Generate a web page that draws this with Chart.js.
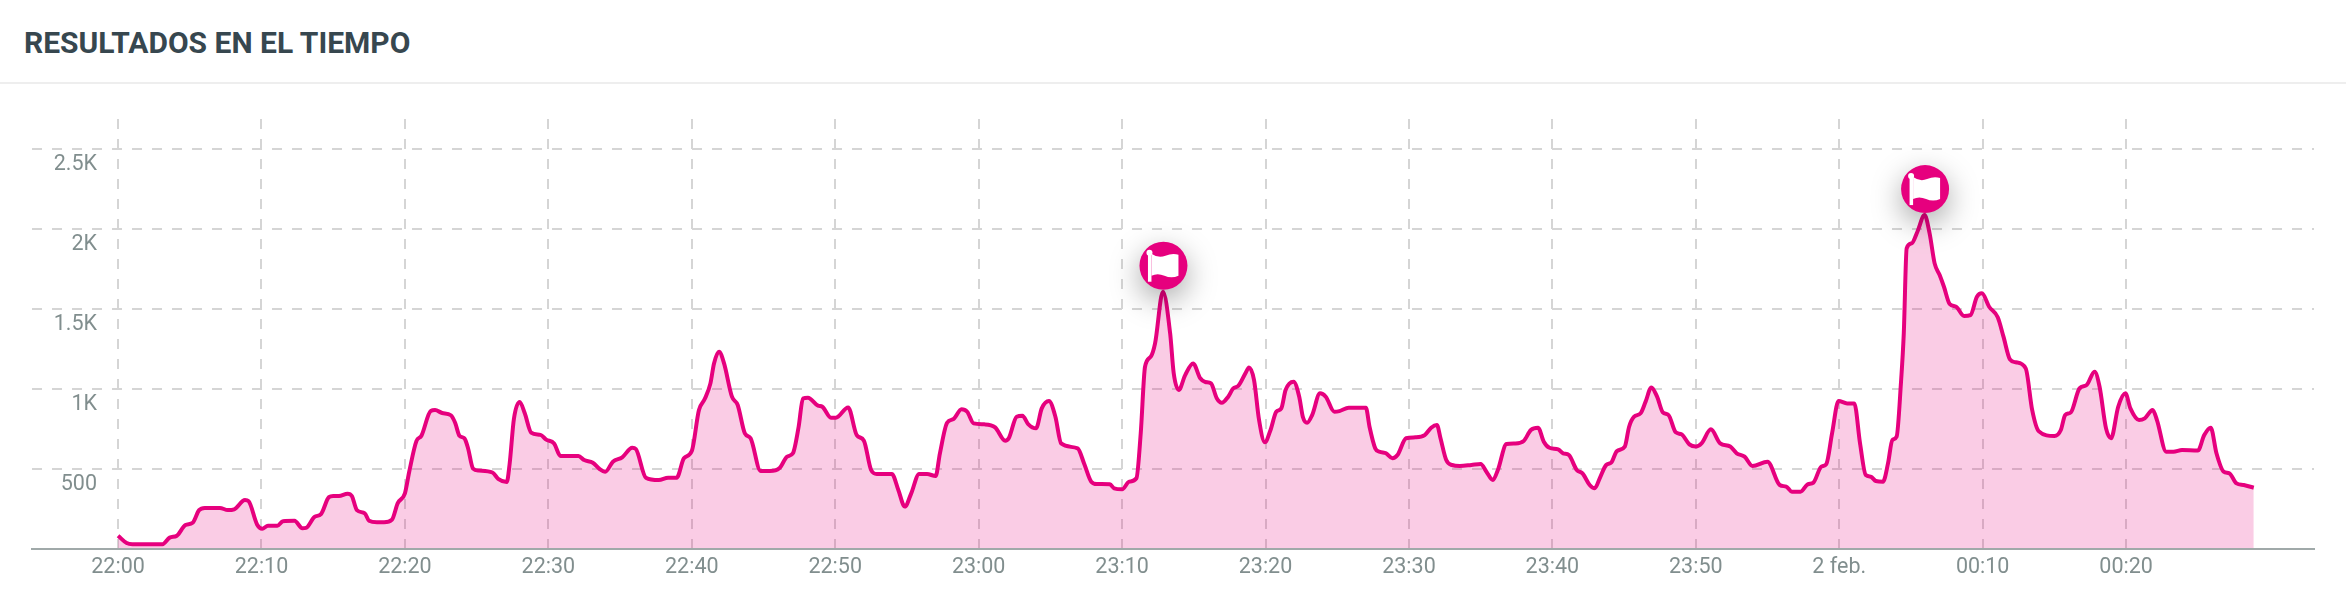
<!DOCTYPE html>
<html lang="es">
<head>
<meta charset="utf-8">
<title>Resultados en el tiempo</title>
<script src="https://cdn.jsdelivr.net/npm/chart.js@4"></script>
<style>
    html, body { margin: 0; padding: 0; background: #fff; }
    #title {
        position: absolute; left: 24px; top: 26px;
        font: 700 30px/34px Roboto, sans-serif; color: #37474f;
    }
    #divider { position: absolute; left: 0; right: 0; top: 82px; height: 2px; background: #eeeeee; }
    #wrap { position: absolute; left: 0; top: 0; width: 2346px; height: 616px; }
</style>
</head>
<body>
<div id="title">RESULTADOS EN EL TIEMPO</div>
<div id="divider"></div>
<div id="wrap"><canvas id="resultsChart"></canvas></div>
<script>
// minutes since 22:00
const minutes = [
    0, 0.6, 1, 3.1, 3.6, 4.1, 4.7, 5.2, 5.65, 6.05, 7.1, 7.65, 8.1, 8.85, 9.1, 9.7, 10.05, 10.45, 11.1, 11.5,
    12.3, 12.85, 13.1, 13.7, 14.15, 14.7, 15, 15.4, 16, 16.3, 16.65, 17.2, 17.5, 18.05, 18.55, 19.1, 19.5, 20, 20.3, 20.8,
    21.15, 21.8, 22.1, 22.6, 23.2, 23.5, 23.8, 24.15, 24.4, 24.75, 25.15, 26.1, 26.5, 27.1, 27.3, 27.6, 28, 28.35, 28.8, 29.45,
    29.85, 30.4, 30.85, 32.1, 32.5, 33.1, 33.57, 33.97, 34.5, 35.15, 35.85, 36.1, 36.8, 37.7, 38.35, 38.95, 39.45, 40, 40.5, 40.9,
    41.3, 41.55, 41.9, 42.25, 42.8, 43.2, 43.7, 44.1, 44.8, 45.45, 46.1, 46.65, 47.05, 47.45, 47.75, 48.1, 48.8, 49.1, 49.7, 50.05,
    50.9, 51.5, 52, 52.5, 52.9, 53.95, 54.4, 54.85, 55.3, 55.85, 56.4, 57, 57.3, 57.8, 58.25, 58.8, 59.2, 59.65, 60.4, 61.15,
    61.85, 62.1, 62.65, 63.05, 63.45, 64, 64.4, 64.9, 65.35, 65.75, 66.9, 67.35, 67.85, 68.25, 69.15, 69.45, 70, 70.5, 71, 71.3,
    71.6, 72, 72.3, 72.85, 73.35, 73.6, 73.95, 74.4, 74.95, 75.45, 75.8, 76.2, 76.6, 76.95, 77.4, 77.75, 78.1, 78.6, 78.85, 79.2,
    79.55, 79.95, 80.35, 80.75, 81.1, 81.4, 81.95, 82.35, 82.6, 82.9, 83.25, 83.8, 84.2, 84.8, 85.15, 85.8, 87, 87.25, 87.65, 87.95,
    88.4, 88.85, 89.2, 89.8, 90.45, 91.1, 91.55, 91.95, 92.2, 92.6, 93, 93.55, 94.35, 95, 95.4, 95.85, 96.2, 96.8, 97.4, 98,
    98.5, 99, 99.4, 99.8, 100.4, 100.75, 101.15, 101.7, 102.1, 102.6, 102.95, 103.3, 103.75, 104.1, 104.5, 105.05, 105.35, 105.7, 106.15, 106.5,
    106.9, 107.3, 107.7, 108.1, 108.6, 109, 109.55, 110, 110.4, 111.05, 111.7, 112.4, 112.85, 113.4, 113.95, 115, 115.85, 116.3, 116.7, 117.3,
    117.8, 118.2, 118.75, 119.1, 119.5, 119.95, 120.55, 121.05, 121.45, 121.85, 122.2, 122.55, 123.05, 123.4, 123.7, 124, 124.3, 124.5, 124.7, 125.05,
    125.45, 125.95, 126.3, 126.65, 127, 127.3, 127.7, 128.15, 128.7, 129.15, 129.6, 129.95, 130.45, 131.05, 131.45, 131.9, 132.3, 133, 133.45, 133.9,
    135, 135.45, 135.75, 136.15, 136.75, 137.25, 137.8, 138.15, 138.6, 138.95, 139.45, 139.95, 140.3, 140.9, 141.3, 141.85, 142.15, 142.8, 143.3, 143.9,
    145, 145.45, 145.9, 146.3, 146.8, 147.2, 147.7, 148.2, 148.9
];
const results = [
    83, 37, 30, 30, 71, 83, 150, 164, 243, 257, 257, 243, 248, 306, 299, 152, 127, 145, 145, 174,
    176, 130, 132, 201, 218, 324, 331, 331, 346, 331, 243, 223, 176, 167, 167, 184, 287, 348, 483, 674,
    708, 863, 868, 850, 836, 789, 708, 691, 630, 502, 490, 478, 439, 419, 532, 814, 919, 850, 728, 713,
    684, 659, 581, 581, 556, 539, 500, 483, 546, 573, 633, 625, 446, 431, 446, 446, 567, 612, 869, 937,
    1035, 1160, 1233, 1160, 952, 900, 723, 692, 487, 487, 504, 577, 598, 764, 941, 946, 896, 889, 821, 821,
    885, 712, 677, 494, 469, 469, 369, 265, 348, 469, 469, 456, 598, 789, 812, 873, 858, 785, 779, 760,
    677, 692, 827, 833, 781, 754, 879, 925, 827, 660, 629, 535, 421, 406, 404, 379, 373, 421, 442, 723,
    1139, 1202, 1285, 1608, 1348, 1098, 994, 1087, 1160, 1067, 1044, 1035, 942, 914, 952, 1004, 1019, 1098, 1135, 1056,
    806, 667, 744, 858, 879, 994, 1046, 952, 827, 789, 837, 973, 952, 858, 862, 883, 883, 764, 629, 608,
    598, 567, 587, 692, 698, 712, 758, 775, 692, 556, 525, 519, 525, 531, 483, 431, 494, 656, 660, 675,
    744, 758, 671, 633, 623, 598, 587, 494, 473, 400, 379, 442, 525, 540, 612, 640, 764, 827, 848, 921,
    1010, 952, 854, 837, 729, 717, 654, 640, 660, 748, 660, 640, 598, 577, 519, 546, 400, 390, 358, 358,
    404, 415, 515, 531, 723, 925, 910, 910, 660, 462, 452, 425, 421, 535, 681, 702, 1035, 1348, 1879, 1910,
    1983, 2087, 1973, 1785, 1712, 1639, 1531, 1514, 1456, 1462, 1577, 1598, 1514, 1448, 1327, 1185, 1167, 1129, 869, 737,
    706, 744, 837, 854, 1004, 1025, 1108, 1014, 754, 692, 889, 973, 879, 806, 817, 869, 806, 608, 608, 619,
    615, 712, 758, 598, 483, 473, 410, 400, 383
];
const xTickLabels = ['22:00', '22:10', '22:20', '22:30', '22:40', '22:50', '23:00', '23:10', '23:20', '23:30', '23:40', '23:50', '2 feb.', '00:10', '00:20'];
const yTickLabels = ['', '500', '1K', '1.5K', '2K', '2.5K'];
const flagMinutes = [72.85, 125.95];
const flagValues = [1608, 2087];

const pink = '#e6007e';
const tickColor = '#818e8e';
const gridColor = '#d5d5d5';

// round pin with the white flag, sits on top of the peak
const flagPins = {
    id: 'flagPins',
    afterLayout(chart) {
        // y labels live inside the plot, the scale clips them to its own box otherwise
        chart.scales.y.left = 0;
        chart.scales.y.right = 100;
    },
    afterDatasetsDraw(chart) {
        const ctx = chart.ctx;
        flagMinutes.forEach((m, i) => {
            const x = chart.scales.x.getPixelForValue(m) + 0.5;
            const y = chart.scales.y.getPixelForValue(flagValues[i]) - 26;
            ctx.save();
            ctx.shadowColor = 'rgba(0,0,0,0.35)';
            ctx.shadowBlur = 30;
            ctx.shadowOffsetY = 10;
            ctx.fillStyle = pink;
            ctx.beginPath();
            ctx.arc(x, y, 24, 0, Math.PI * 2);
            ctx.fill();
            ctx.shadowColor = 'transparent';

            ctx.fillStyle = '#fff';
            ctx.beginPath();
            ctx.arc(x - 14, y - 13, 3, 0, Math.PI * 2);
            ctx.fill();
            ctx.fillRect(x - 15.5, y - 13, 3.5, 29);
            ctx.beginPath();
            ctx.moveTo(x - 12, y - 12);
            ctx.quadraticCurveTo(x - 5, y - 7, x + 2, y - 10);
            ctx.quadraticCurveTo(x + 9, y - 13, x + 15, y - 11);
            ctx.lineTo(x + 15, y + 10);
            ctx.quadraticCurveTo(x + 8, y + 13, x + 1, y + 10);
            ctx.quadraticCurveTo(x - 6, y + 7, x - 12, y + 10);
            ctx.closePath();
            ctx.fill();
            ctx.restore();
        });
    }
};

new Chart(document.getElementById('resultsChart'), {
    type: 'line',
    data: {
        datasets: [{
            data: minutes.map((m, i) => ({ x: m, y: results[i] })),
            borderColor: pink,
            borderWidth: 4,
            backgroundColor: 'rgba(230,0,126,0.2)',
            fill: 'origin',
            pointRadius: 0,
            cubicInterpolationMode: 'monotone'
        }]
    },
    options: {
        responsive: true,
        maintainAspectRatio: false,
        animation: false,
        layout: { padding: { left: 31, right: 32, top: 119, bottom: 0 } },
        plugins: { legend: { display: false }, tooltip: { enabled: false } },
        scales: {
            x: {
                type: 'linear',
                min: -6,
                max: 153.1,
                afterFit(scale) { scale.height = 67; },
                border: { color: '#a0a9a9', width: 2, dash: [10, 10], z: 1 },
                grid: { color: gridColor, lineWidth: 2, drawTicks: false },
                ticks: {
                    stepSize: 10,
                    includeBounds: false,
                    autoSkip: false,
                    maxRotation: 0,
                    padding: 6,
                    color: tickColor,
                    font: { family: 'Roboto', size: 21.5 },
                    callback: value => xTickLabels[value / 10]
                }
            },
            y: {
                // no min here: min + max + stepSize makes Chart.js respace the ticks evenly
                beginAtZero: true,
                max: 2687.5,
                afterFit(scale) { scale.width = 1; },
                border: { display: false, dash: [10, 10] },
                grid: {
                    color: ctx => ctx.tick && ctx.tick.value === 0 ? 'transparent' : gridColor,
                    lineWidth: 2,
                    drawTicks: false
                },
                ticks: {
                    stepSize: 500,
                    includeBounds: false,
                    autoSkip: false,
                    padding: 3,
                    labelOffset: 16,
                    color: tickColor,
                    font: { family: 'Roboto', size: 21.5 },
                    callback: value => yTickLabels[value / 500]
                }
            }
        }
    },
    plugins: [flagPins]
});
</script>
</body>
</html>
